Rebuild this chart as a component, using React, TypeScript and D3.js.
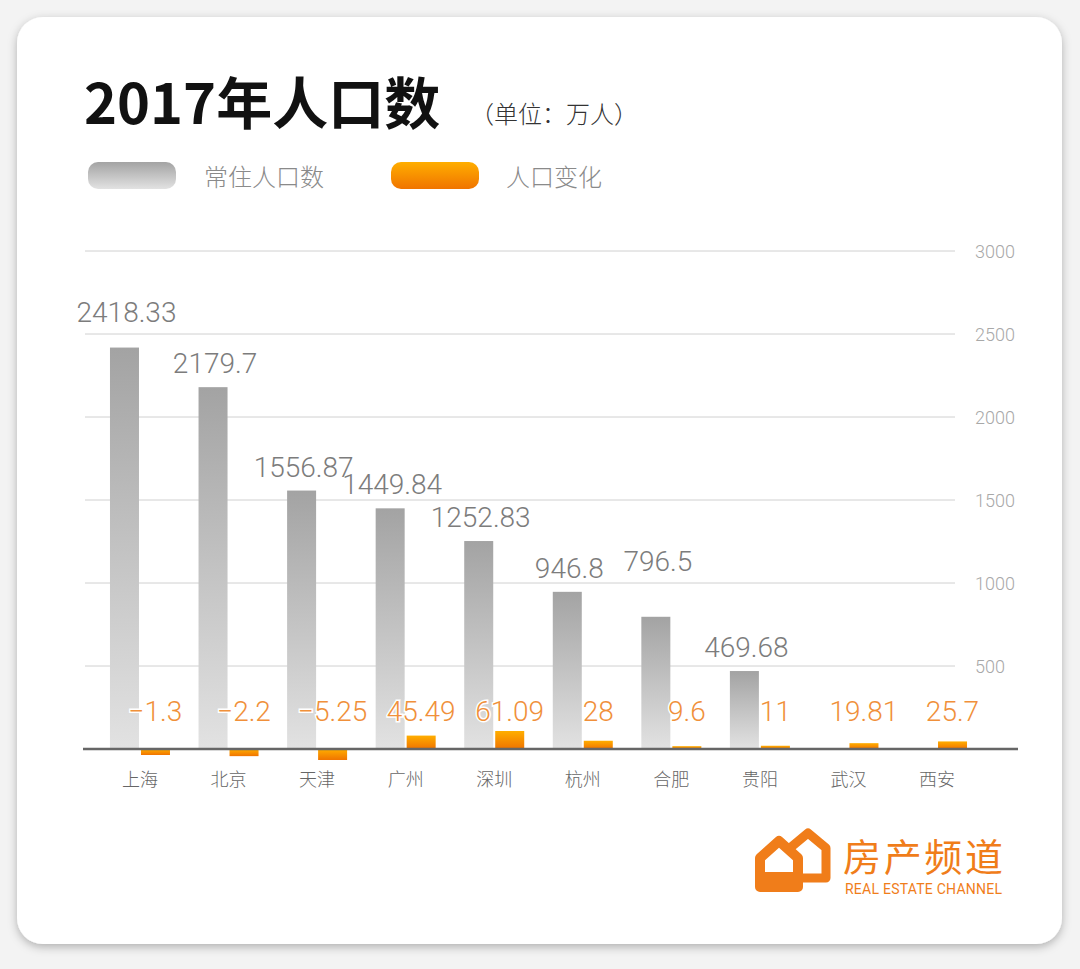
import React from 'react';
import * as d3 from 'd3';

const categories = ['上海', '北京', '天津', '广州', '深圳', '杭州', '合肥', '贵阳', '武汉', '西安'];
const population: (number | null)[] = [2418.33, 2179.7, 1556.87, 1449.84, 1252.83, 946.8, 796.5, 469.68, null, null];
const change = [-1.3, -2.2, -5.25, 45.49, 61.09, 28, 9.6, 11, 19.81, 25.7];
const yTicks = [500, 1000, 1500, 2000, 2500, 3000];
const legendLabels = ['常住人口数', '人口变化'];

const W = 1080;
const H = 969;
const NUM_FONT = 'Roboto, "Liberation Sans", Arial, sans-serif';
const CJK_FONT = '"Noto Sans CJK SC", "Noto Sans", sans-serif';

export default function App() {
  const y = d3.scaleLinear().domain([0, 3000]).range([749, 251]);
  const x = d3.scaleBand<string>().domain(categories).range([95.7, 981.3]).padding(0);
  const barW = 29;
  const posH = d3.scaleLinear().domain([0, 61.09]).range([0, 18]);
  const negH = d3.scaleLinear().domain([-1.3, -5.25]).range([6, 11]);
  const baseY = y(0);
  const center = (c: string) => (x(c) as number) + x.bandwidth() / 2;

  const labelY = (v: number) => {
    let b = y(v) - 14;
    for (const t of yTicks) {
      const gy = y(t);
      if (gy >= b - 21 && gy <= b + 2) b = gy - 12;
    }
    return b;
  };

  return (
    <svg width={W} height={H} style={{ position: 'absolute', left: 0, top: 0 }}>
      <defs>
        <linearGradient id="grayGrad" x1="0" y1="0" x2="0" y2="1">
          <stop offset="0" stopColor="#a3a3a3" />
          <stop offset="1" stopColor="#e2e2e2" />
        </linearGradient>
        <linearGradient id="orangeGrad" x1="0" y1="0" x2="0" y2="1">
          <stop offset="0" stopColor="#ffae00" />
          <stop offset="1" stopColor="#f07400" />
        </linearGradient>
        <filter id="shadow" x="-10%" y="-10%" width="120%" height="120%">
          <feDropShadow dx="0" dy="3" stdDeviation="5" floodColor="#000" floodOpacity="0.28" />
        </filter>
      </defs>
      <rect x={0} y={0} width={W} height={H} fill="#f3f3f3" />
      <rect x={17} y={17} width={1045} height={927} rx={26} fill="#fff" filter="url(#shadow)" />

      {/* Title */}
      <text x={84} y={124} fontFamily={CJK_FONT} fontWeight={700} fontSize={56} fill="#111">
        2017年人口数
      </text>
      <text x={470} y={123} fontFamily={CJK_FONT} fontWeight={300} fontSize={24} fill="#333">
        （单位：万人）
      </text>

      {/* Legend */}
      <rect x={88} y={162} width={88} height={27} rx={10} fill="url(#grayGrad)" />
      <text x={204} y={186} fontFamily={CJK_FONT} fontWeight={300} fontSize={24} fill="#8a8a8a">
        {legendLabels[0]}
      </text>
      <rect x={391} y={162} width={88} height={27} rx={10} fill="url(#orangeGrad)" />
      <text x={506} y={186} fontFamily={CJK_FONT} fontWeight={300} fontSize={24} fill="#8a8a8a">
        {legendLabels[1]}
      </text>

      {/* Grid lines and y ticks */}
      {yTicks.map((t) => (
        <g key={t}>
          <line x1={85} x2={955} y1={y(t)} y2={y(t)} stroke="#d0d0d0" strokeWidth={1} />
          <text x={975} y={y(t) + 6.5} fontFamily={NUM_FONT} fontWeight={300} fontSize={18} fill="#a8a8a8">
            {t}
          </text>
        </g>
      ))}

      {/* Gray bars */}
      {categories.map((c, i) => {
        const v = population[i];
        if (v == null) return null;
        return (
          <rect key={'g' + c} x={center(c) - 1 - barW} y={y(v)} width={barW} height={baseY - y(v)} fill="url(#grayGrad)" />
        );
      })}

      {/* Orange bars */}
      {categories.map((c, i) => {
        const v = change[i];
        const h = v >= 0 ? posH(v) : negH(v);
        return (
          <rect
            key={'o' + c}
            x={center(c) + 1}
            y={v >= 0 ? baseY - h : baseY}
            width={barW}
            height={h}
            fill="url(#orangeGrad)"
          />
        );
      })}

      {/* Axis line */}
      <line x1={83} x2={1018} y1={baseY} y2={baseY} stroke="#666" strokeWidth={2.5} />

      {/* Gray value labels */}
      {categories.map((c, i) => {
        const v = population[i];
        if (v == null) return null;
        return (
          <text
            key={'gl' + c}
            x={center(c) - 1 - barW / 2 + 2}
            y={labelY(v)}
            textAnchor="middle"
            fontFamily={NUM_FONT}
            fontWeight={300}
            fontSize={28}
            fill="#7c7c7c"
          >
            {String(v)}
          </text>
        );
      })}

      {/* Orange value labels */}
      {categories.map((c, i) => (
        <text
          key={'ol' + c}
          x={center(c) + 1 + barW / 2}
          y={721}
          textAnchor="middle"
          fontFamily={NUM_FONT}
          fontWeight={300}
          fontSize={28}
          fill="#f0903a"
          stroke="#fff"
          strokeWidth={3}
          paintOrder="stroke"
        >
          {String(change[i]).replace('-', '−')}
        </text>
      ))}

      {/* Category labels */}
      {categories.map((c) => (
        <text key={'cl' + c} x={center(c)} y={786} textAnchor="middle" fontFamily={CJK_FONT} fontWeight={300} fontSize={18} fill="#666">
          {c}
        </text>
      ))}

      {/* Logo */}
      <g>
        <path
          d="M790 878 L790 848 L808 833 L826 848 L826 878 Z"
          fill="#fff"
          stroke="#f07d1a"
          strokeWidth={9}
          strokeLinejoin="round"
        />
        <path
          d="M760 887 L760 858 L779 841 L798 858 L798 887 Z"
          fill="#fff"
          stroke="#f07d1a"
          strokeWidth={10}
          strokeLinejoin="round"
        />
        <rect x={765} y={872} width={28} height={12} fill="#f07d1a" />
        <text x={843} y={871} fontFamily={CJK_FONT} fontWeight={400} fontSize={38} fill="#f07d1a" textLength={160}>
          房产频道
        </text>
        <text x={845} y={894} fontFamily={NUM_FONT} fontWeight={400} fontSize={14} fill="#f07d1a" textLength={157}>
          REAL ESTATE CHANNEL
        </text>
      </g>
    </svg>
  );
}
